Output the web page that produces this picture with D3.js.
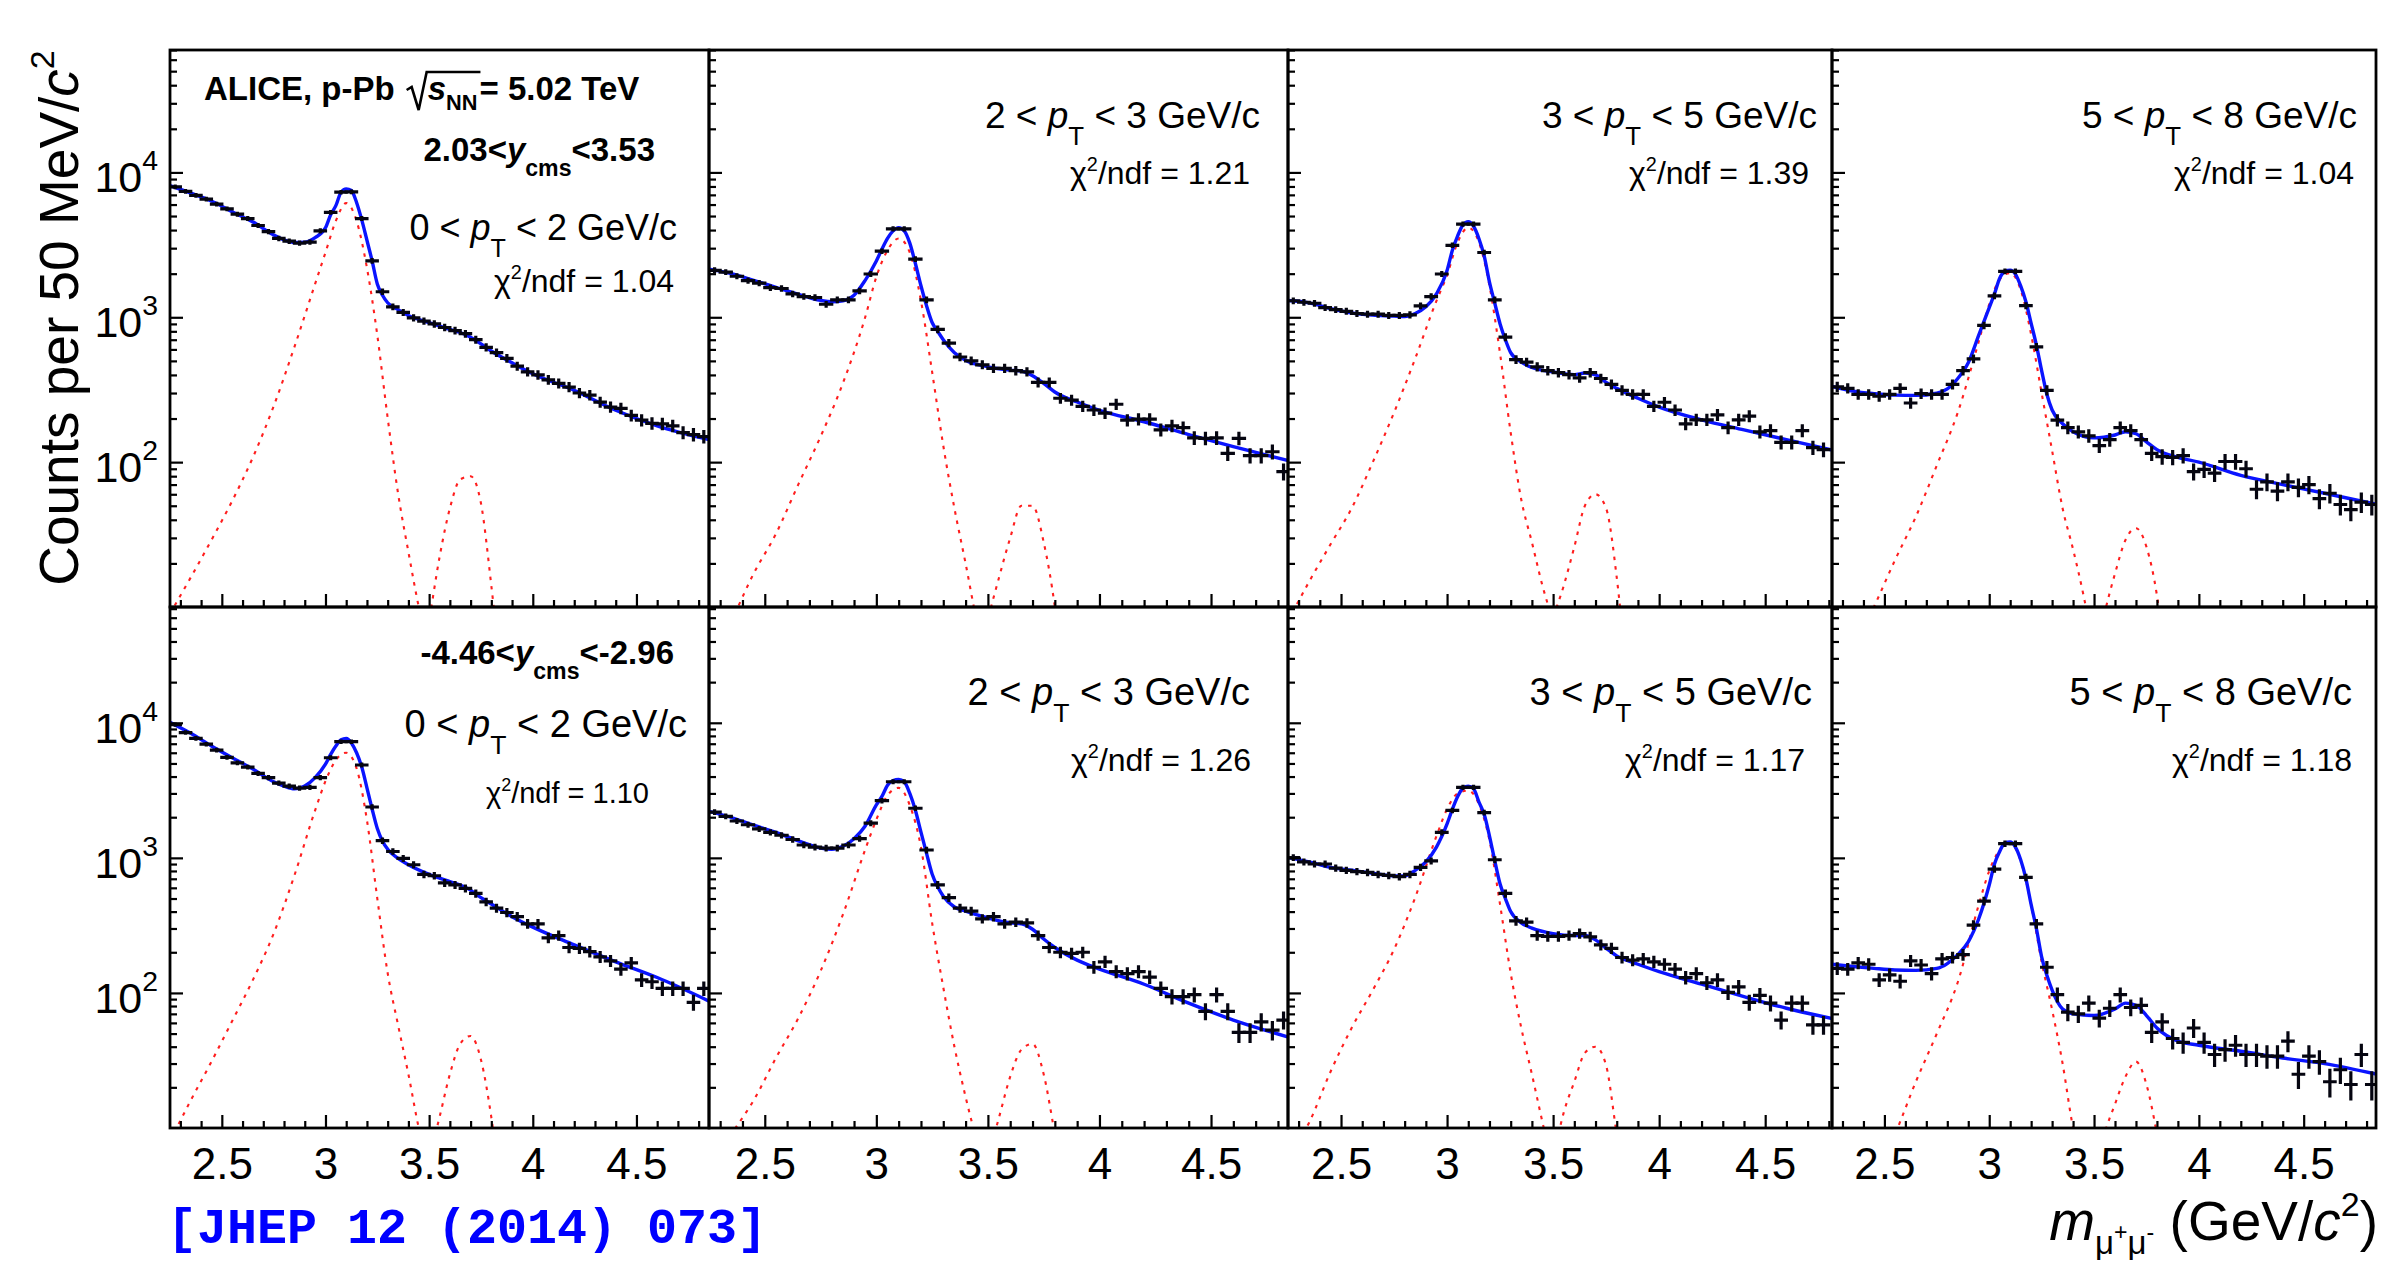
<!DOCTYPE html>
<html>
<head>
<meta charset="utf-8">
<script src="https://cdn.jsdelivr.net/npm/d3@7"></script>
<style>
  html, body { margin: 0; padding: 0; background: #fff; }
  svg { display: block; }
  text { font-family: "Liberation Sans", Arial, Helvetica, sans-serif; white-space: pre; }
</style>
</head>
<body>
<svg id="chart" width="2384" height="1261"></svg>
<script>
// ---------------------------------------------------------------------------
// Dimuon invariant-mass spectra, p-Pb at 5.02 TeV, in 4 pT bins and 2 rapidity
// ranges. Histogram counts per 50 MeV/c^2 bin, the total fit (blue) and the
// J/psi and psi(2S) signal shapes (red, dotted).
// ---------------------------------------------------------------------------

// bin centres (GeV/c^2)
const binCenters = [2.275, 2.325, 2.375, 2.425, 2.475, 2.525, 2.575, 2.625, 2.675, 2.725,
  2.775, 2.825, 2.875, 2.925, 2.975, 3.025, 3.075, 3.125, 3.175, 3.225,
  3.275, 3.325, 3.375, 3.425, 3.475, 3.525, 3.575, 3.625, 3.675, 3.725,
  3.775, 3.825, 3.875, 3.925, 3.975, 4.025, 4.075, 4.125, 4.175, 4.225,
  4.275, 4.325, 4.375, 4.425, 4.475, 4.525, 4.575, 4.625, 4.675, 4.725,
  4.775, 4.825];

// forward rapidity 2.03 < y_cms < 3.53
const countsFwdPt02 = [7950, 7400, 6950, 6550, 6050, 5600, 5150, 4800, 4300, 3900, 3500, 3350, 3250, 3300, 3950, 5300, 7300, 7350, 4800, 2450, 1500, 1180, 1080, 990, 940, 900, 850, 810, 770, 700, 620, 570, 520, 460, 420, 400, 370, 350, 330, 300, 290, 260, 240, 235, 210, 195, 185, 184, 178, 160, 155, 150];
const countsFwdPt23 = [2110, 2050, 1920, 1790, 1720, 1600, 1580, 1450, 1390, 1370, 1230, 1320, 1320, 1520, 1990, 2860, 4080, 4080, 2520, 1320, 826, 664, 532, 500, 470, 444, 444, 428, 420, 355, 355, 276, 268, 243, 229, 218, 251, 195, 198, 198, 167, 178, 173, 147, 146, 147, 115, 146, 111, 111, 118, 86];
const countsFwdPt35 = [1300, 1270, 1250, 1166, 1130, 1100, 1062, 1050, 1050, 1030, 1030, 1040, 1200, 1390, 1990, 3140, 4400, 4400, 2800, 1320, 729, 510, 491, 455, 428, 415, 402, 382, 415, 378, 344, 313, 294, 294, 243, 259, 229, 184, 196, 196, 212, 173, 196, 208, 162, 165, 137, 137, 165, 126, 122, 120];
const countsFwdPt58 = [331, 323, 294, 294, 285, 294, 323, 256, 297, 294, 294, 344, 428, 516, 879, 1406, 2075, 2075, 1202, 624, 313, 195, 173, 162, 152, 130, 143, 173, 165, 143, 115, 109, 108, 111, 86, 89, 84, 101, 101, 90, 65, 73, 63, 73, 67, 70, 56, 61, 51, 47, 53, 51];

// backward rapidity -4.46 < y_cms < -2.96
const countsBwdPt02 = [9700, 8470, 7670, 6940, 6270, 5540, 5050, 4700, 4220, 3930, 3580, 3400, 3280, 3330, 3930, 5510, 7250, 7250, 4870, 2380, 1340, 1115, 990, 889, 754, 737, 652, 630, 594, 545, 472, 424, 394, 367, 325, 325, 256, 266, 217, 214, 202, 185, 173, 150, 167, 125, 121, 108, 108, 108, 85, 108];
const countsBwdPt23 = [2180, 2030, 1875, 1758, 1637, 1545, 1470, 1368, 1245, 1202, 1180, 1180, 1245, 1388, 1807, 2650, 3660, 3660, 2330, 1143, 630, 507, 424, 403, 354, 367, 325, 334, 330, 266, 217, 200, 196, 200, 155, 170, 144, 139, 144, 131, 108, 94, 94, 97, 73, 97, 73, 51, 51, 61, 53, 63];
const countsBwdPt35 = [1005, 934, 901, 901, 839, 809, 792, 780, 754, 742, 726, 754, 851, 949, 1545, 2244, 3330, 3330, 2163, 968, 545, 342, 334, 266, 262, 262, 266, 275, 260, 227, 214, 183, 175, 179, 170, 163, 150, 130, 139, 119, 125, 101, 111, 85, 96, 84, 63, 84, 84, 58, 58, 60];
const countsBwdPt58 = [152, 150, 167, 163, 125, 136, 122, 173, 161, 139, 179, 183, 192, 318, 479, 826, 1274, 1274, 716, 325, 155, 97, 72, 70, 84, 65, 77, 97, 78, 81, 51, 61, 46, 43, 55, 43, 35, 38, 41, 35, 35, 34, 34, 44, 25, 34, 31, 22, 27, 21, 35, 21];

// total fit, sampled in mass
const fitMass = [2.25, 2.35, 2.45, 2.55, 2.65, 2.75, 2.8, 2.85, 2.9, 2.95, 3.0, 3.025, 3.05, 3.075, 3.1, 3.125, 3.15, 3.175, 3.2, 3.225, 3.25, 3.275, 3.3, 3.35, 3.4, 3.5, 3.6, 3.65, 3.7, 3.75, 3.8, 3.9, 4.0, 4.2, 4.4, 4.6, 4.85];
const fitFwdPt02 = [8100, 7200, 6350, 5350, 4550, 3700, 3420, 3280, 3300, 3550, 4150, 5100, 5900, 7300, 7700, 7500, 6200, 4700, 3400, 2450, 1700, 1420, 1260, 1130, 1030, 920, 826, 785, 729, 655, 585, 485, 407, 313, 228, 178, 143];
const fitFwdPt23 = [2150, 2000, 1800, 1610, 1440, 1310, 1280, 1300, 1420, 1800, 2450, 2950, 3500, 3950, 4150, 3950, 3250, 2350, 1650, 1200, 920, 800, 700, 570, 505, 455, 432, 425, 395, 350, 305, 260, 228, 190, 155, 128, 102];
const fitFwdPt35 = [1305, 1257, 1150, 1070, 1035, 1020, 1010, 1062, 1180, 1452, 2100, 2900, 3650, 4350, 4570, 4250, 3500, 2650, 1750, 1250, 900, 700, 570, 490, 450, 420, 402, 412, 400, 355, 323, 276, 240, 196, 167, 143, 118];
const fitFwdPt58 = [333, 309, 297, 290, 289, 299, 320, 378, 485, 752, 1166, 1452, 1862, 2075, 2115, 1986, 1645, 1280, 908, 643, 428, 294, 229, 184, 162, 147, 154, 162, 157, 138, 122, 108, 100, 81, 70, 61, 51];
const fitBwdPt02 = [10100, 8360, 6730, 5510, 4540, 3660, 3400, 3240, 3400, 3930, 4940, 5830, 6730, 7500, 7670, 7100, 6000, 4700, 3300, 2300, 1650, 1330, 1160, 990, 889, 754, 667, 630, 577, 507, 455, 367, 307, 227, 170, 130, 87];
const fitBwdPt23 = [2210, 1990, 1745, 1545, 1338, 1183, 1158, 1218, 1388, 1722, 2466, 2850, 3450, 3740, 3800, 3650, 3000, 2250, 1550, 1080, 760, 610, 520, 433, 403, 359, 330, 325, 296, 251, 217, 175, 150, 116, 84, 63, 47];
const fitBwdPt35 = [1005, 934, 851, 809, 769, 736, 736, 809, 934, 1202, 1782, 2291, 2845, 3280, 3400, 3250, 2600, 2100, 1450, 950, 640, 500, 400, 330, 302, 275, 266, 266, 247, 214, 188, 163, 144, 116, 94, 77, 63];
const fitBwdPt58 = [163, 157, 152, 148, 147, 152, 165, 192, 239, 354, 630, 901, 1117, 1291, 1309, 1202, 968, 701, 450, 300, 185, 135, 105, 76, 70, 68, 76, 84, 81, 68, 55, 44, 41, 37, 33, 30, 25];

// J/psi signal shape
const jpsiMass = [2.25, 2.35, 2.45, 2.55, 2.65, 2.75, 2.85, 2.95, 3.0, 3.05, 3.1, 3.15, 3.2, 3.25, 3.3, 3.35, 3.4, 3.45, 3.5];
const jpsiFwdPt02 = [9, 16, 29, 54, 108, 243, 623, 1700, 2800, 4630, 6140, 4630, 2190, 752, 202, 61, 24, 10, 5];
const jpsiFwdPt23 = [4, 8, 17, 32, 70, 150, 350, 1000, 1900, 2900, 3500, 2800, 1300, 420, 130, 48, 20, 8, 4];
const jpsiFwdPt35 = [8, 15, 27, 48, 100, 220, 520, 1300, 1950, 3300, 4150, 3300, 1650, 560, 160, 55, 28, 14, 8];
const jpsiFwdPt58 = [3, 5, 10, 21, 42, 95, 220, 680, 1230, 1820, 2020, 1550, 760, 300, 120, 48, 25, 12, 5];
const jpsiBwdPt02 = [8, 16, 31, 62, 125, 275, 740, 2250, 3700, 5300, 6000, 4600, 1900, 500, 140, 58, 25, 10, 5];
const jpsiBwdPt23 = [5, 9, 16, 33, 65, 145, 380, 1150, 1920, 2900, 3300, 2450, 1200, 330, 110, 40, 17, 8, 4];
const jpsiBwdPt35 = [6, 11, 26, 55, 105, 210, 510, 1450, 2300, 3000, 3150, 2500, 1350, 450, 140, 55, 25, 11, 5];
const jpsiBwdPt58 = [1.5, 2.5, 4.5, 9, 22, 50, 120, 450, 800, 1150, 1290, 950, 450, 170, 75, 30, 10, 5, 3];

// psi(2S) signal shape
const psi2sMass = [3.45, 3.5, 3.55, 3.6, 3.65, 3.7, 3.75, 3.8, 3.85];
const psi2sFwdPt02 = [3, 8, 22, 48, 76, 80, 52, 14, 3];
const psi2sFwdPt23 = [3, 8, 16, 30, 50, 50, 28, 10, 2];
const psi2sFwdPt35 = [3, 8, 14, 26, 50, 60, 48, 16, 3];
const psi2sFwdPt58 = [2, 4, 9, 17, 29, 35, 26, 12, 3];
const psi2sBwdPt02 = [3, 6, 12, 25, 42, 48, 32, 12, 3];
const psi2sBwdPt23 = [3, 6, 12, 24, 38, 42, 25, 9, 3];
const psi2sBwdPt35 = [3, 6, 13, 22, 36, 40, 29, 9, 3];
const psi2sBwdPt58 = [2, 4, 9, 15, 24, 31, 21, 9, 3];

// labels
const ptRanges = [[0, 2], [2, 3], [3, 5], [5, 8]];
const chi2Fwd = [1.04, 1.21, 1.39, 1.04];
const chi2Bwd = [1.10, 1.26, 1.17, 1.18];
const rapidityLabels = [["2.03", "3.53"], ["-4.46", "-2.96"]];
const xTickLabels = [2.5, 3, 3.5, 4, 4.5];
const yTickLabels = [100, 1000, 10000];

// ---------------------------------------------------------------------------
// layout
// ---------------------------------------------------------------------------
const colEdges = [170, 709, 1288, 1832, 2376];
const rowEdges = [50, 607, 1128];
const xDomainEnd = [4.85, 4.845, 4.815, 4.845];
const yDomains = [[10, 7.0e4], [10, 7.2e4]];

// per-panel text placement (inset from panel right edge, baseline, font size)
const ptInset   = [[32, 28, 15, 19], [22, 38, 20, 24]];
const ptBase    = [[240, 128, 128, 128], [737, 705, 705, 705]];
const ptSize    = [[36, 37, 37, 37], [38, 38, 38, 38]];
const chiInset  = [[35, 38, 23, 22], [60, 37, 27, 24]];
const chiBase   = [[292, 184, 184, 184], [803, 771, 771, 771]];
const chiSize   = [[32, 32, 32, 32], [29, 32, 32, 32]];

const BLUE = "#0a14ff", RED = "#ff1e1e";
const SANS = '"Liberation Sans", Arial, Helvetica, sans-serif';
const MONO = '"Liberation Mono", "DejaVu Sans Mono", monospace';

const panels = [
  { row: 0, col: 0, counts: countsFwdPt02, fit: fitFwdPt02, jpsi: jpsiFwdPt02, psi2s: psi2sFwdPt02, chi2: chi2Fwd[0] },
  { row: 0, col: 1, counts: countsFwdPt23, fit: fitFwdPt23, jpsi: jpsiFwdPt23, psi2s: psi2sFwdPt23, chi2: chi2Fwd[1] },
  { row: 0, col: 2, counts: countsFwdPt35, fit: fitFwdPt35, jpsi: jpsiFwdPt35, psi2s: psi2sFwdPt35, chi2: chi2Fwd[2] },
  { row: 0, col: 3, counts: countsFwdPt58, fit: fitFwdPt58, jpsi: jpsiFwdPt58, psi2s: psi2sFwdPt58, chi2: chi2Fwd[3] },
  { row: 1, col: 0, counts: countsBwdPt02, fit: fitBwdPt02, jpsi: jpsiBwdPt02, psi2s: psi2sBwdPt02, chi2: chi2Bwd[0] },
  { row: 1, col: 1, counts: countsBwdPt23, fit: fitBwdPt23, jpsi: jpsiBwdPt23, psi2s: psi2sBwdPt23, chi2: chi2Bwd[1] },
  { row: 1, col: 2, counts: countsBwdPt35, fit: fitBwdPt35, jpsi: jpsiBwdPt35, psi2s: psi2sBwdPt35, chi2: chi2Bwd[2] },
  { row: 1, col: 3, counts: countsBwdPt58, fit: fitBwdPt58, jpsi: jpsiBwdPt58, psi2s: psi2sBwdPt58, chi2: chi2Bwd[3] }
];

const svg = d3.select("#chart");
const defs = svg.append("defs");

// text made of pieces with sub/superscripts; shift is in px (positive = down)
function richText(parent, x, y, size, segs, opts = {}) {
  const t = parent.append("text")
    .attr("x", x).attr("y", y)
    .attr("font-size", size)
    .attr("text-anchor", opts.anchor || "start")
    .attr("font-weight", opts.bold ? "bold" : "normal")
    .attr("fill", opts.fill || "#000")
    .style("font-family", opts.family || SANS);
  if (opts.transform) t.attr("transform", opts.transform);
  let shift = 0;
  segs.forEach(s => {
    const ts = t.append("tspan").text(s.t);
    const sh = s.shift || 0;
    if (sh !== shift) { ts.attr("dy", sh - shift); shift = sh; }
    if (s.scale) ts.attr("font-size", size * s.scale);
    if (s.italic) ts.attr("font-style", "italic");
  });
  return t;
}

const xMinor = d3.range(23, 49).map(v => v / 10).filter(v => Math.abs(v * 2 - Math.round(v * 2)) > 1e-6);

panels.forEach(p => {
  const x0 = colEdges[p.col], x1 = colEdges[p.col + 1];
  const y0 = rowEdges[p.row], y1 = rowEdges[p.row + 1];
  const x = d3.scaleLinear().domain([2.25, xDomainEnd[p.col]]).range([x0, x1]);
  const y = d3.scaleLog().domain(yDomains[p.row]).range([y1, y0]);

  const clipId = `clip-${p.row}-${p.col}`;
  defs.append("clipPath").attr("id", clipId)
    .append("rect").attr("x", x0).attr("y", y0).attr("width", x1 - x0).attr("height", y1 - y0);

  const g = svg.append("g");
  const plot = g.append("g").attr("clip-path", `url(#${clipId})`);

  const line = d3.line().x(d => x(d[0])).y(d => y(d[1])).curve(d3.curveMonotoneX);

  // signal shapes
  [[jpsiMass, p.jpsi], [psi2sMass, p.psi2s]].forEach(([ms, vs]) => {
    plot.append("path")
      .attr("d", line(ms.map((m, i) => [m, vs[i]])))
      .attr("fill", "none").attr("stroke", RED).attr("stroke-width", 2.1)
      .attr("stroke-dasharray", "3.5 6");
  });

  // total fit
  plot.append("path")
    .attr("d", line(fitMass.map((m, i) => [m, p.fit[i]])))
    .attr("fill", "none").attr("stroke", BLUE).attr("stroke-width", 3.4);

  // data points with bin-width x bars and statistical (sqrt N) y bars
  const pts = binCenters.map((m, i) => ({ m, n: p.counts[i] }))
    .filter(d => d.m < xDomainEnd[p.col]);
  plot.append("g").selectAll("path").data(pts).join("path")
    .attr("d", d => {
      const e = Math.sqrt(d.n);
      const cx = x(d.m), cy = y(d.n);
      return `M${x(d.m - 0.025)},${cy}H${x(d.m + 0.025)}M${cx},${y(d.n + e)}V${y(Math.max(d.n - e, 1))}`;
    })
    .attr("fill", "none").attr("stroke", "#050510").attr("stroke-width", 3.2)
    .attr("stroke-linecap", "square");

  // x axis ticks (inward)
  const gxMinor = g.append("g").attr("transform", `translate(0,${y1})`)
    .call(d3.axisBottom(x).tickValues(xMinor).tickSizeInner(-7).tickSizeOuter(0).tickFormat(""));
  const gx = g.append("g").attr("transform", `translate(0,${y1})`)
    .call(d3.axisBottom(x).tickValues(xTickLabels).tickSizeInner(-13).tickSizeOuter(0)
      .tickPadding(20).tickFormat(p.row === 1 ? d3.format("") : () => ""));
  [gxMinor, gx].forEach(a => {
    a.select(".domain").remove();
    a.selectAll("line").attr("stroke", "#000").attr("stroke-width", 2.2);
  });
  gx.selectAll("text").attr("font-size", 44).attr("fill", "#000").style("font-family", SANS);

  // y axis ticks (inward)
  const yMinor = y.ticks().filter(v => !yTickLabels.includes(v) && v !== 10);
  const gyMinor = g.append("g").attr("transform", `translate(${x0},0)`)
    .call(d3.axisLeft(y).tickValues(yMinor).tickSizeInner(-7).tickSizeOuter(0).tickFormat(""));
  const gy = g.append("g").attr("transform", `translate(${x0},0)`)
    .call(d3.axisLeft(y).tickValues(yTickLabels).tickSizeInner(-13).tickSizeOuter(0).tickFormat(""));
  [gyMinor, gy].forEach(a => {
    a.select(".domain").remove();
    a.selectAll("line").attr("stroke", "#000").attr("stroke-width", 2.2);
  });

  if (p.col === 0) {
    yTickLabels.forEach(v => {
      richText(g, x0 - 12, y(v) + 20, 43, [
        { t: "10" },
        { t: String(Math.round(Math.log10(v))), scale: 0.66, shift: -22 }
      ], { anchor: "end" });
    });
  }

  // frame
  g.append("rect").attr("x", x0).attr("y", y0).attr("width", x1 - x0).attr("height", y1 - y0)
    .attr("fill", "none").attr("stroke", "#000").attr("stroke-width", 2.8);

  // pT and chi2 labels
  const [lo, hi] = ptRanges[p.col];
  const fs = ptSize[p.row][p.col];
  richText(g, x1 - ptInset[p.row][p.col], ptBase[p.row][p.col], fs, [
    { t: `${lo} < ` },
    { t: "p", italic: true },
    { t: "T", scale: 0.7, shift: fs * 0.46 },
    { t: ` < ${hi} GeV/c` }
  ], { anchor: "end" });
  const cs = chiSize[p.row][p.col];
  richText(g, x1 - chiInset[p.row][p.col], chiBase[p.row][p.col], cs, [
    { t: "χ" },
    { t: "2", scale: 0.62, shift: -cs * 0.42 },
    { t: `/ndf = ${p.chi2.toFixed(2)}` }
  ], { anchor: "end" });

  // rapidity range
  if (p.col === 0) {
    const [ylo, yhi] = rapidityLabels[p.row];
    const base = p.row === 0 ? 161 : 664;
    const right = p.row === 0 ? 655 : 674;
    richText(g, right, base, 33, [
      { t: `${ylo}<` },
      { t: "y", italic: true },
      { t: "cms", scale: 0.7, shift: 15 },
      { t: `<${yhi}` }
    ], { anchor: "end", bold: true });
  }
});

// experiment / system label with square-root sign
{
  const base = 100, fs = 33;
  const t1 = richText(svg, 204, base, fs, [{ t: "ALICE, p-Pb" }], { bold: true });
  const w1 = t1.node().getComputedTextLength();
  const xr = 204 + w1 + 12;
  const tS = richText(svg, xr + 21, base, fs, [
    { t: "s", italic: true },
    { t: "NN", scale: 0.66, shift: 10 }
  ], { bold: true });
  const wS = tS.node().getComputedTextLength();
  svg.append("path")
    .attr("d", `M${xr},${base - 10}L${xr + 5},${base - 13}L${xr + 12},${base + 10}L${xr + 20},${base - 28}H${xr + 22 + wS + 2}`)
    .attr("fill", "none").attr("stroke", "#000").attr("stroke-width", 2.6).attr("stroke-linejoin", "miter");
  richText(svg, xr + 23 + wS, base, fs, [{ t: "= 5.02 TeV" }], { bold: true });
}

// axis titles
richText(svg, 0, 0, 55, [
  { t: "Counts per 50 MeV/" },
  { t: "c", italic: true },
  { t: "2", scale: 0.62, shift: -24 }
], { anchor: "middle", transform: "translate(78,318) rotate(-90)" });

richText(svg, 2378, 1240, 55, [
  { t: "m", italic: true },
  { t: "μ", scale: 0.6, shift: 14 },
  { t: "+", scale: 0.42, shift: 0 },
  { t: "μ", scale: 0.6, shift: 14 },
  { t: "-", scale: 0.42, shift: 0 },
  { t: " (GeV/", shift: 0 },
  { t: "c", italic: true },
  { t: "2", scale: 0.62, shift: -24 },
  { t: ")", shift: 0 }
], { anchor: "end" });

// reference
richText(svg, 167, 1243, 50, [{ t: "[JHEP 12 (2014) 073]" }],
  { bold: true, fill: "#0000ff", family: MONO });
</script>
</body>
</html>
